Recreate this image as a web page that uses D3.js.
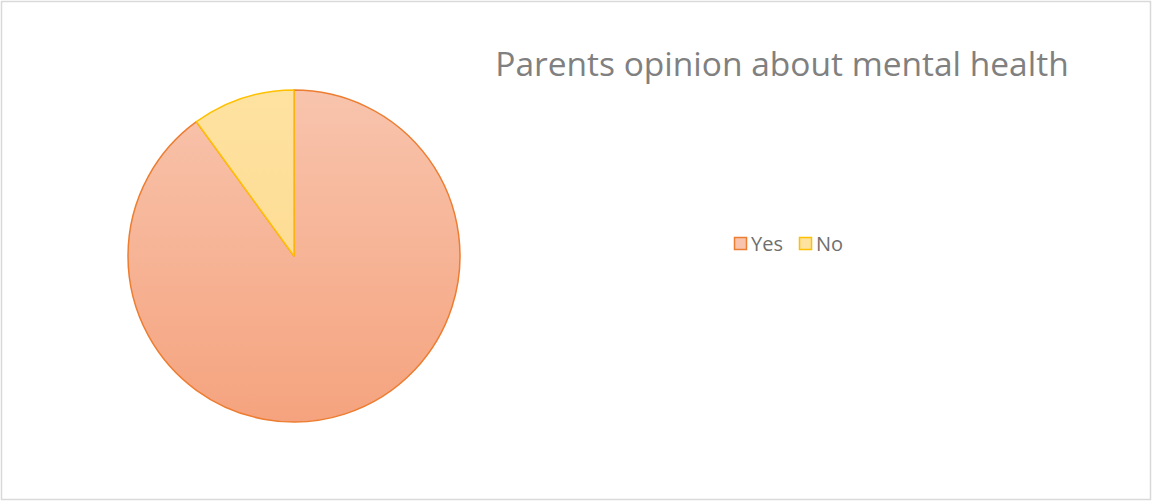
<!DOCTYPE html>
<html lang="en">
	<head>
		<meta charset="utf-8">
		<title>Parents opinion about mental health</title>
		<script type="text/javascript" src="https://cdn.jsdelivr.net/npm/d3@7"></script>
		<style type="text/css">
			body { margin: 0; background: #fff; }
		</style>
	</head>
	<body>
		<script>
			// data
			var categories = ["Yes", "No"];
			var values = [90, 10];
			var fillTop = ["#f8c4ad", "#fee2a0"];
			var fillBottom = ["#f5a37e", "#fdd88a"];
			var strokes = ["#ed7d31", "#ffc000"];

			var outerWidth = 1153,
				outerHeight = 502,
				cx = 294, cy = 256, r = 166;

			var svg = d3.select("body")
						.append("svg")
						.attr("width", outerWidth)
						.attr("height", outerHeight);

			svg.append("rect")
				.attr("x", 1.5).attr("y", 1.5)
				.attr("width", outerWidth - 4).attr("height", outerHeight - 4)
				.attr("fill", "#fff")
				.attr("stroke", "#d9d9d9")
				.attr("stroke-width", 1.5);

			var defs = svg.append("defs");
			categories.forEach(function(c, i) {
				var g = defs.append("linearGradient")
					.attr("id", "grad" + i)
					.attr("gradientUnits", "userSpaceOnUse")
					.attr("x1", 0).attr("y1", -r)
					.attr("x2", 0).attr("y2", r);
				g.append("stop").attr("offset", "0%").attr("stop-color", fillTop[i]);
				g.append("stop").attr("offset", "100%").attr("stop-color", fillBottom[i]);
			});

			var pie = d3.pie().sort(null).value(function(d) { return d; });
			var arc = d3.arc().innerRadius(0).outerRadius(r);

			svg.append("g")
				.attr("transform", "translate(" + cx + "," + cy + ")")
				.selectAll("path")
				.data(pie(values))
				.enter().append("path")
				.attr("d", arc)
				.attr("fill", function(d, i) { return "url(#grad" + i + ")"; })
				.attr("stroke", function(d, i) { return strokes[i]; })
				.attr("stroke-width", 1.5)
				.attr("stroke-linejoin", "round");

			svg.append("text")
				.attr("x", 782)
				.attr("y", 76)
				.attr("text-anchor", "middle")
				.attr("font-family", "'Open Sans', sans-serif")
				.attr("font-size", 33.5)
				.attr("fill", "#808080")
				.text("Parents opinion about mental health");

			var legendX = [734, 799];
			var legend = svg.append("g")
				.selectAll("g")
				.data(categories)
				.enter().append("g")
				.attr("transform", function(d, i) { return "translate(" + legendX[i] + ",237)"; });

			legend.append("rect")
				.attr("x", 0.5).attr("y", 0.5)
				.attr("width", 12).attr("height", 12)
				.attr("fill", function(d, i) { return fillTop[i]; })
				.attr("stroke", function(d, i) { return strokes[i]; })
				.attr("stroke-width", 1.5);

			legend.append("text")
				.attr("x", 17)
				.attr("y", 14)
				.attr("font-family", "'Open Sans', sans-serif")
				.attr("font-size", 20)
				.attr("fill", "#6f6f6f")
				.text(function(d) { return d; });
		</script>
	</body>
</html>
